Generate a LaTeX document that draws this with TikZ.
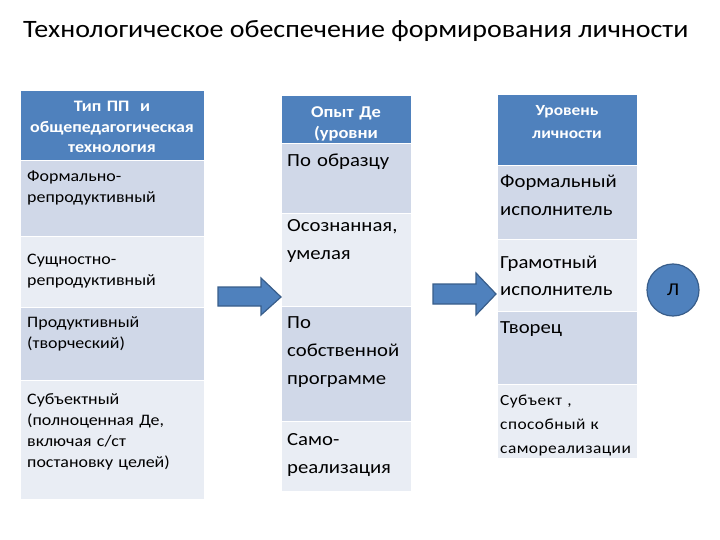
\documentclass[tikz,border=0pt]{standalone}
\usepackage{fontspec}
\setmainfont{Carlito}[FakeStretch=1.12]
\usetikzlibrary{positioning}
\definecolor{cblue}{HTML}{4F81BD}
\definecolor{cdark}{HTML}{D0D8E8}
\definecolor{clight}{HTML}{E9EDF4}
\definecolor{cedge}{HTML}{385D8A}
\tikzset{
  cell/.style={fill=#1, draw=white, line width=1pt, anchor=north west, inner sep=0pt},
  head/.style={font=\bfseries\fontsize{16}{20.5}\selectfont, text=white, align=center, inner sep=0pt, anchor=base, text width=#1},
  body/.style={font=\fontsize{16}{21}\selectfont, align=left, inner sep=0pt, anchor=base west, text width=#1},
  big/.style={font=\fontsize{18.5}{28}\selectfont},
  blockarrow/.style={fill=cblue, draw=cedge, line width=1.2pt, line join=miter},
  title/.style={font=\fontsize{25}{28}\selectfont, anchor=base west, inner sep=0pt},
}
\begin{document}
\begin{tikzpicture}[x=1pt, y=-1pt]
\useasboundingbox (0,0) rectangle (720,540);
\node[title] (title) at (23,38) {Технологическое обеспечение формирования личности};
% left table
\node[cell=cblue, minimum width=184, minimum height=70] (l0) at (20,90) {};
\node[head=184pt] (l0-t) at (112,112) {Тип ПП\ \ и\\общепедагогическая\\технология};
\foreach \n/\ya/\yb/\c/\b/\t in {l1/160/236/cdark/182/{Формально-\\репродуктивный},
    l2/236/307/clight/264.5/{Сущностно-\\репродуктивный},
    l3/307/380/cdark/327.5/{Продуктивный\\(творческий)},
    l4/380/499/clight/404.5/{Субъектный\\(полноценная Де,\\включая с/ст\\постановку целей)}} {
  \node[cell=\c, minimum width=184, minimum height={\yb-\ya}] (\n) at (20,\ya) {};
  \node[body=177pt] (\n-t) at (27,\b) {\t};
}
% middle table
\node[cell=cblue, minimum width=130, minimum height=48] (m0) at (281,95) {};
\node[head=130pt, font=\bfseries\fontsize{16.5}{21}\selectfont] (m0-t) at (346,117.5) {Опыт Де\\(уровни};
\foreach \n/\ya/\yb/\c/\b/\t in {m1/143/213/cdark/167/{По образцу},
    m2/213/306/clight/232/{Осознанная,\\умелая},
    m3/306/421/cdark/328/{По\\собственной\\программе},
    m4/421/491/clight/445/{Само-\\реализация}} {
  \node[cell=\c, minimum width=130, minimum height={\yb-\ya}] (\n) at (281,\ya) {};
  \node[body=124pt, big] (\n-t) at (287,\b) {\t};
}
% right table
\node[cell=cblue, minimum width=140, minimum height=71] (r0) at (497,94) {};
\node[head=140pt, font=\bfseries\fontsize{15.5}{23}\selectfont] (r0-t) at (567,115.5) {Уровень\\личности};
\foreach \n/\ya/\yb/\c/\b/\t in {r1/165/239/cdark/188/{Формальный\\исполнитель},
    r2/239/311/clight/268/{Грамотный\\исполнитель},
    r3/311/384/cdark/333/{Творец}} {
  \node[cell=\c, minimum width=140, minimum height={\yb-\ya}] (\n) at (497,\ya) {};
  \node[body=137pt, big] (\n-t) at (500,\b) {\t};
}
\node[cell=clight, minimum width=140, minimum height=74] (r4) at (497,384) {};
\node[body=140pt, font=\fontsize{15.5}{24}\selectfont\addfontfeatures{LetterSpace=3}] (r4-t) at (500,405) {Субъект ,\\способный к\\самореализации};
% arrows and circle
\draw[blockarrow] (218,287) -- (261,287) -- (261,278) -- (281,297) -- (261,315) -- (261,306) -- (218,306) -- cycle;
\draw[blockarrow] (433,284) -- (476,284) -- (476,273) -- (496,294) -- (476,315) -- (476,304) -- (433,304) -- cycle;
\node[circle, fill=cblue, draw=cedge, line width=1.2pt, minimum size=52, inner sep=0pt, font=\fontsize{18}{18}\selectfont] (lich) at (673,290) {Л};
\end{tikzpicture}
\end{document}
